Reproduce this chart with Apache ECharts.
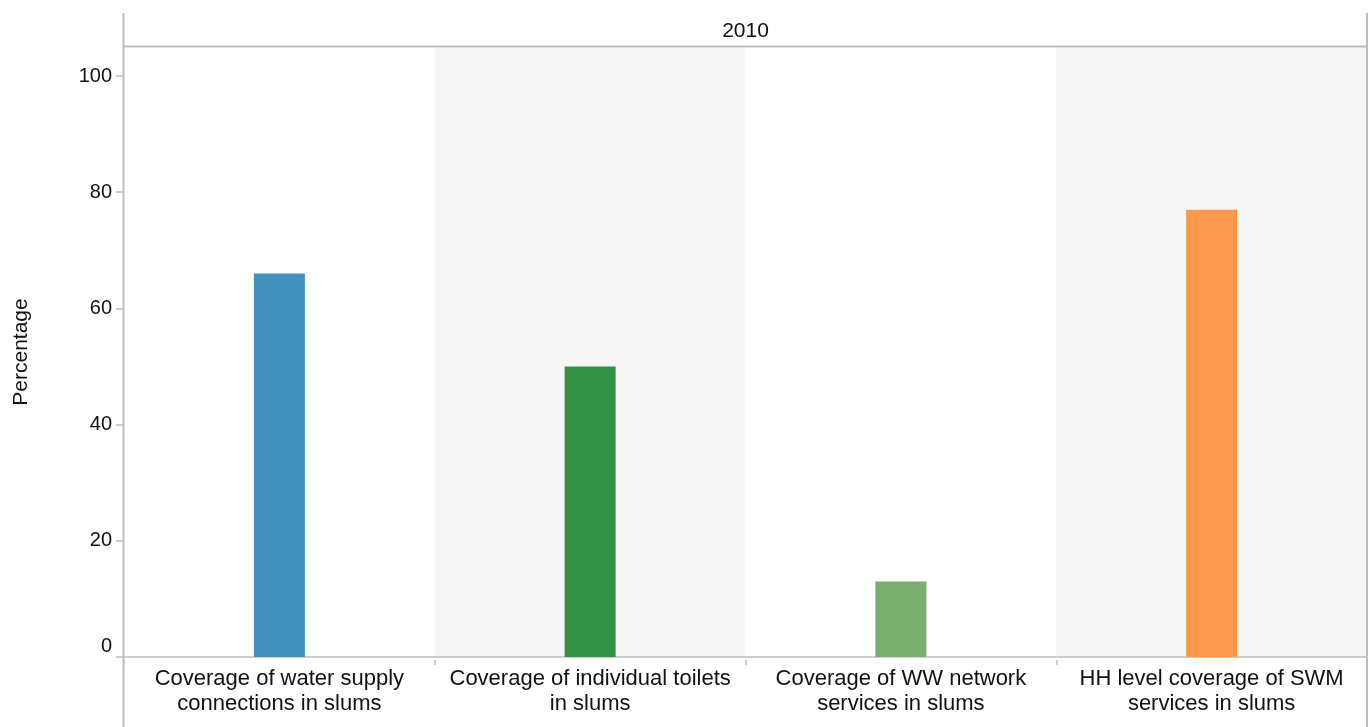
<!DOCTYPE html>
<html>
<head>
<meta charset="utf-8">
<script src="https://cdn.jsdelivr.net/npm/echarts@6/dist/echarts.min.js"></script>
<style>html,body{margin:0;padding:0;background:#fff}#c{width:1372px;height:727px}</style>
</head>
<body>
<div id="c"></div>
<script>
var categories = [
  'Coverage of water supply\nconnections in slums',
  'Coverage of individual toilets\nin slums',
  'Coverage of WW network\nservices in slums',
  'HH level coverage of SWM\nservices in slums'
];
var values = [66, 50, 13, 77];
var barColors = ['#4190be', '#319244', '#7baf6d', '#fd984d'];
var facetLabel = '2010';
var yTicks = [0, 20, 40, 60, 80, 100];

var W = 1372, H = 727;
var G = { left: 124, right: 5, top: 47, bottom: 70 };
var frameTop = 13;
var lineCol = '#bdbdbd';
var font = 'Liberation Sans, Arial, Helvetica, sans-serif';

var chart = echarts.init(document.getElementById('c'), null, { renderer: 'canvas' });
chart.setOption({
  animation: false,
  backgroundColor: '#ffffff',
  grid: { left: G.left, right: G.right, top: G.top, bottom: G.bottom, containLabel: false },
  xAxis: [{
    type: 'category',
    data: categories,
    axisLine: { show: true, lineStyle: { color: lineCol, width: 1.5 } },
    axisTick: { show: false },
    splitArea: { show: true, areaStyle: { color: ['#ffffff', '#f6f6f6'] } },
    axisLabel: { color: '#111', fontFamily: font, fontSize: 22, lineHeight: 25.6, margin: 9, interval: 0 }
  }, {
    type: 'category',
    data: categories,
    position: 'bottom',
    offset: 3,
    axisLine: { show: false },
    axisTick: { show: true, length: 5, lineStyle: { color: lineCol, width: 1.5 } },
    axisLabel: { show: false },
    splitLine: { show: false }
  }],
  yAxis: {
    type: 'value',
    min: 0,
    max: 105,
    interval: 20,
    name: 'Percentage',
    nameLocation: 'middle',
    nameGap: 92,
    nameRotate: 90,
    nameTextStyle: { color: '#111', fontFamily: font, fontSize: 21 },
    axisLine: { show: false },
    axisTick: { show: true, length: 8, lineStyle: { color: lineCol, width: 1.5 } },
    splitLine: { show: false },
    axisLabel: {
      color: '#111', fontFamily: font, fontSize: 20, margin: 12,
      showMaxLabel: false,
      formatter: function (v) { return yTicks.indexOf(v) < 0 ? '' : (v === 0 ? '{z|0}' : String(v)); },
      rich: { z: { fontFamily: font, fontSize: 20, color: '#111', padding: [0, 0, 22, 0] } }
    }
  },
  series: [{
    type: 'bar',
    data: values.map(function (v, i) { return { value: v, itemStyle: { color: barColors[i] } }; }),
    barWidth: 51,
    xAxisIndex: 0
  }],
  graphic: [
    { type: 'line', shape: { x1: G.left - 0.5, y1: frameTop, x2: G.left - 0.5, y2: H }, style: { stroke: lineCol, lineWidth: 2 }, z: 10 },
    { type: 'line', shape: { x1: W - G.right, y1: frameTop, x2: W - G.right, y2: H }, style: { stroke: lineCol, lineWidth: 2 }, z: 10 },
    { type: 'line', shape: { x1: G.left, y1: G.top - 0.5, x2: W - G.right, y2: G.top - 0.5 }, style: { stroke: lineCol, lineWidth: 2 }, z: 10 },
    { type: 'text', x: (G.left + W - G.right) / 2, y: (frameTop + G.top) / 2 + 1, style: { text: facetLabel, fill: '#111', font: '21px ' + font, align: 'center', verticalAlign: 'middle' }, z: 10 }
  ]
});
</script>
</body>
</html>
